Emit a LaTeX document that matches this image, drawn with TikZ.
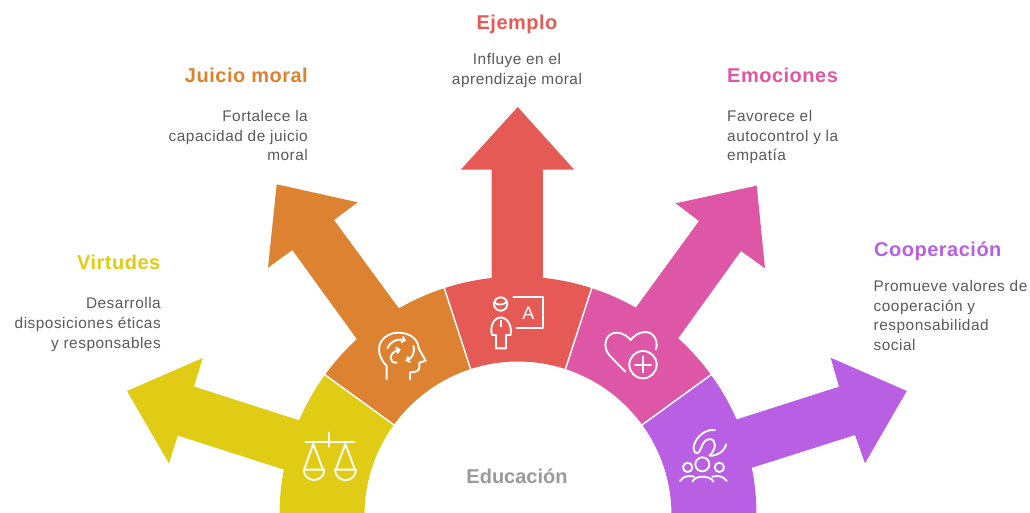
\documentclass[tikz,border=0pt]{standalone}
\usepackage{fontspec}
\setmainfont{Liberation Sans}
\newfontfamily\descfont[LetterSpace=3.3]{Liberation Sans}
\newfontfamily\ttlfont[LetterSpace=2.5]{Liberation Sans Bold}
\usetikzlibrary{arrows.meta}
\definecolor{cYel}{HTML}{E0CC15}
\definecolor{cOra}{HTML}{DD8230}
\definecolor{cRed}{HTML}{E65A55}
\definecolor{cPin}{HTML}{DD57A6}
\definecolor{cPur}{HTML}{B85FE3}
\definecolor{cTxt}{HTML}{5A5A5A}
\definecolor{cEdu}{HTML}{9A9A9A}
\tikzset{
  x=1pt,y=-1pt,
  ttl/.style={inner sep=0pt,anchor=base,font=\fontsize{20}{24}\selectfont\ttlfont},
  desc/.style={inner sep=0pt,text=cTxt,font=\fontsize{15.4}{19.8}\selectfont\descfont},
  ico/.style={draw=white,line width=1.9pt,line cap=round,line join=round},
  barb/.style={-{Straight Barb[length=3pt,width=6pt]}},
}
\newcommand{\lead}{\rule{0pt}{12pt}}
\newcommand{\petal}[2]{%
  \begin{scope}[shift={(518,515)},rotate=#1]
    \fill[#2] (-108:153.5) arc[start angle=-108,end angle=-72,radius=153.5]
      -- (-72:238.5) arc[start angle=-72,end angle=-108,radius=238.5] -- cycle;
  \end{scope}}
\newcommand{\gapline}[1]{%
  \begin{scope}[shift={(518,515)},rotate=#1]
    \draw[white,line width=1.5pt] (-90:152) -- (-90:240);
  \end{scope}}
\begin{document}
\begin{tikzpicture}
\useasboundingbox (0,0) rectangle (1030,512);
\clip (0,0) rectangle (1030,512);
\fill[white] (0,0) rectangle (1030,512);
\petal{72}{cYel}
\petal{36}{cOra}
\petal{0}{cRed}
\petal{-36}{cPin}
\petal{-72}{cPur}
% arrows
\fill[cYel] (127,391) -- (202.7,358) -- (194,386.5) -- (323,428) -- (307,477) -- (177.7,435.5) -- (169,463.5) -- cycle;
\fill[cOra] (276.7,184.3) -- (357.7,202.3) -- (334,220) -- (414,329) -- (372,360) -- (292.3,250) -- (268,267.7) -- cycle;
\fill[cRed] (517.7,107) -- (574,169.5) -- (542.9,169.5) -- (542.9,300) -- (491.5,300) -- (491.5,169.5) -- (461,169.5) -- cycle;
\fill[cPin] (756.7,185.7) -- (675.7,203.3) -- (699,221) -- (621,328) -- (664,358) -- (741,251) -- (765,268.3) -- cycle;
\fill[cPur] (906.7,391) -- (830.7,357.7) -- (839,386.7) -- (713,427) -- (729,475) -- (855,435) -- (865,463.3) -- cycle;
\gapline{54}\gapline{18}\gapline{-18}\gapline{-54}

% scales
\begin{scope}[shift={(260,270)},scale=1/3]
  \draw[ico] (137,515) -- (283,515) (208,488) -- (208,530);
  \draw[ico] (133,597) -- (160,522) -- (188,597);
  \draw[ico] (228,597) -- (256,522) -- (284,597);
  \draw[ico] (131,599) -- (193,599) arc[start angle=0,end angle=180,radius=31] -- cycle;
  \draw[ico] (225,599) -- (288,599) arc[start angle=0,end angle=180,radius=31.5] -- cycle;
\end{scope}
% head
\begin{scope}[shift={(370,320)},scale=1/3]
  \draw[ico] (50,178) -- (50,138) .. controls (35,122) and (27,105) .. (27,88)
     .. controls (27,58) and (55,38) .. (85,38)
     .. controls (120,38) and (145,58) .. (146,85)
     -- (167,122) -- (148,128) -- (148,142) .. controls (148,152) and (140,157) .. (120,157) -- (120,178);
  \draw[ico,barb] (52,85) .. controls (62,62) and (85,55) .. (108,62);
  \draw[ico,barb] (80,128) .. controls (55,130) and (55,98) .. (92,88);
  \draw[ico,barb] (130,78) .. controls (136,100) and (125,115) .. (106,123);
\end{scope}
% teacher
\begin{scope}[shift={(480,285)},scale=1/3]
  \draw[ico] (62,57) circle[radius=20];
  \draw[ico] (43,53) .. controls (55,62) and (70,60) .. (81,50);
  \draw[ico] (100,35) -- (188,35) -- (188,128) -- (110,128);
  \draw[ico] (36,150) .. controls (28,120) and (45,97) .. (62,97) .. controls (80,97) and (97,120) .. (92,150) -- (78,150) -- (78,190) -- (48,190) -- (48,150) -- cycle;
  \draw[ico] (62,107) -- (62,124);
  \node[inner sep=0pt,text=white,font=\fontsize{18}{20}\selectfont] (letA) at (145,85) {A};
\end{scope}
% heart
\begin{scope}[shift={(520,270)},scale=1/3]
  \draw[ico] (316,305) -- (270,258) .. controls (245,232) and (255,188) .. (290,188)
     .. controls (310,188) and (325,202) .. (332,210)
     .. controls (340,200) and (355,186) .. (375,186)
     .. controls (402,186) and (415,212) .. (408,238);
  \draw[ico] (369,284) circle[radius=41];
  \draw[ico] (345,284) -- (393,284) (369,260) -- (369,307);
\end{scope}
% people
\begin{scope}[shift={(670,425)},scale=1/3]
  \draw[ico] (135,15) .. controls (105,12) and (80,35) .. (72,60)
     .. controls (67,80) and (80,92) .. (88,80)
     .. controls (96,65) and (100,42) .. (120,42)
     .. controls (140,45) and (140,72) .. (118,92)
     .. controls (140,94) and (165,78) .. (168,58);
  \draw[ico] (97,118) circle[radius=21];
  \draw[ico] (53,127) circle[radius=14];
  \draw[ico] (148,127) circle[radius=14];
  \draw[ico] (67,170) .. controls (75,150) and (120,150) .. (131,170);
  \draw[ico] (30,168) .. controls (38,155) and (55,150) .. (72,155);
  \draw[ico] (127,155) .. controls (145,150) and (162,155) .. (170,168);
\end{scope}

\node[ttl,text=cYel,anchor=base east] (t1) at (160.5,269.3) {Virtudes};
\node[desc,anchor=north east,align=right] (d1) at (161,296.3) {\lead Desarrolla\\disposiciones éticas\\y responsables};
\node[ttl,text=cOra,anchor=base east] (t2) at (308,82.3) {Juicio moral};
\node[desc,anchor=north east,align=right] (d2) at (308,109) {\lead Fortalece la\\capacidad de juicio\\moral};
\node[ttl,text=cRed] (t3) at (517,29.3) {Ejemplo};
\node[desc,anchor=north,align=center] (d3) at (517,52.3) {\lead Influye en el\\aprendizaje moral};
\node[ttl,text=cPin,anchor=base west] (t4) at (727,82.3) {Emociones};
\node[desc,anchor=north west,align=left] (d4) at (727,109) {\lead Favorece el\\autocontrol y la\\empatía};
\node[ttl,text=cPur,anchor=base west] (t5) at (874,256.7) {Cooperación};
\node[desc,anchor=north west,align=left] (d5) at (873.5,279) {\lead Promueve valores de\\cooperación y\\responsabilidad\\social};
\node[inner sep=0pt,anchor=base,text=cEdu,font=\fontsize{20}{24}\selectfont\bfseries] (edu) at (517,483) {Educación};
\end{tikzpicture}
\end{document}
